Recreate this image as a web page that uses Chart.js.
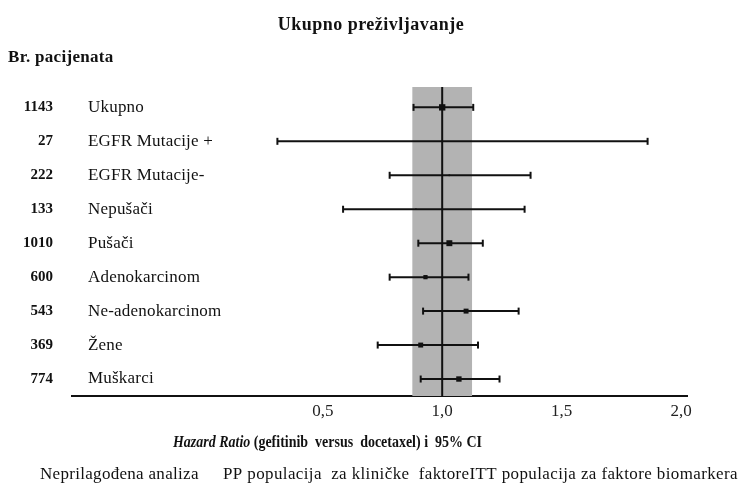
<!DOCTYPE html>
<html>
<head>
<meta charset="utf-8">
<script src="https://cdn.jsdelivr.net/npm/chart.js@4"></script>
<style>
  html, body { margin: 0; padding: 0; background: #fff; }
  #wrap { width: 741px; height: 486px; }
</style>
</head>
<body>
<div id="wrap"><canvas id="forest"></canvas></div>
<script>
// data
const patients = [1143, 27, 222, 133, 1010, 600, 543, 369, 774];
const subgroups = ["Ukupno", "EGFR Mutacije +", "EGFR Mutacije-", "Nepušači", "Pušači",
                   "Adenokarcinom", "Ne-adenokarcinom", "Žene", "Muškarci"];
const hazardRatio = [1.00, 1.00, 1.03, 0.89, 1.03, 0.93, 1.10, 0.91, 1.07];
const ciLower = [0.88, 0.31, 0.78, 0.585, 0.90, 0.78, 0.92, 0.73, 0.91];
const ciUpper = [1.13, 1.86, 1.37, 1.345, 1.17, 1.11, 1.32, 1.15, 1.24];
const xTicks = [0.5, 1.0, 1.5, 2.0];
const bandRange = [0.875, 1.125];
const refLine = 1.0;

// marker size per row (style only)
const markerRadius = [4.5, 0, 1.2, 1.2, 4.2, 3, 3.5, 3.5, 3.8];

const serif = "'Liberation Serif', 'DejaVu Serif', serif";
const ink = "#111";

// one dataset per confidence interval, caps drawn as rotated line points
const ciSets = subgroups.map((name, i) => ({
  type: "scatter",
  label: name + " CI",
  data: [{ x: ciLower[i], y: i }, { x: ciUpper[i], y: i }],
  showLine: true,
  borderColor: ink,
  borderWidth: 2,
  pointStyle: "line",
  rotation: 90,
  pointRadius: 3.5,
  pointBorderWidth: 2,
  pointBorderColor: ink
}));

const estimateSet = {
  type: "scatter",
  label: "HR",
  data: hazardRatio.map((v, i) => ({ x: v, y: i })),
  pointStyle: "rect",
  pointRadius: markerRadius,
  backgroundColor: ink,
  borderColor: ink,
  borderWidth: 0
};

// gray band and the reference line at HR = 1
const bandPlugin = {
  id: "band",
  beforeDatasetsDraw(chart) {
    const { ctx, chartArea, scales } = chart;
    const x0 = scales.x.getPixelForValue(bandRange[0]);
    const x1 = scales.x.getPixelForValue(bandRange[1]);
    ctx.save();
    ctx.fillStyle = "#b3b3b3";
    ctx.fillRect(x0, chartArea.top, x1 - x0, chartArea.bottom - chartArea.top);
    const xr = scales.x.getPixelForValue(refLine);
    ctx.strokeStyle = ink;
    ctx.lineWidth = 2;
    ctx.beginPath();
    ctx.moveTo(xr, chartArea.top);
    ctx.lineTo(xr, chartArea.bottom);
    ctx.stroke();
    ctx.restore();
  }
};

// titles, row labels and the footer line
const textPlugin = {
  id: "texts",
  afterDraw(chart) {
    const { ctx, scales } = chart;
    ctx.save();
    ctx.fillStyle = ink;
    ctx.textBaseline = "middle";

    ctx.font = "bold 18px " + serif;
    ctx.letterSpacing = "0.5px";
    ctx.textAlign = "center";
    ctx.fillText("Ukupno preživljavanje", 371, 25);

    ctx.font = "bold 17px " + serif;
    ctx.letterSpacing = "0.3px";
    ctx.textAlign = "left";
    ctx.fillText("Br. pacijenata", 8, 58);
    ctx.letterSpacing = "0px";

    subgroups.forEach((name, i) => {
      const y = scales.y.getPixelForValue(i);
      ctx.font = "bold 15px " + serif;
      ctx.textAlign = "right";
      ctx.fillText(String(patients[i]), 53, y);
      ctx.font = "17px " + serif;
      ctx.textAlign = "left";
      ctx.letterSpacing = "0.2px";
      ctx.fillText(name, 88, y);
      ctx.letterSpacing = "0px";
    });

    // x axis title: italic part then bold part, squeezed to the reference width
    const partA = "Hazard Ratio";
    const partB = " (gefitinib  versus  docetaxel) i  95% CI";
    ctx.font = "italic bold 16px " + serif;
    const wA = ctx.measureText(partA).width;
    ctx.font = "bold 16px " + serif;
    const wB = ctx.measureText(partB).width;
    const f = Math.min(1, 309 / (wA + wB));
    const x = 327.5 - (wA + wB) * f / 2;
    ctx.font = "italic bold 16px " + serif;
    ctx.fillText(partA, x, 443, wA * f);
    ctx.font = "bold 16px " + serif;
    ctx.fillText(partB, x + wA * f, 443, wB * f);

    ctx.font = "17px " + serif;
    ctx.letterSpacing = "0.3px";
    ctx.fillText("Neprilagođena analiza", 40, 475);
    ctx.letterSpacing = "0.4px";
    ctx.fillText("PP populacija  za kliničke  faktoreITT populacija za faktore biomarkera", 223, 475, 515);
    ctx.restore();
  }
};

new Chart(document.getElementById("forest"), {
  type: "scatter",
  data: { datasets: [...ciSets, estimateSet] },
  options: {
    responsive: true,
    maintainAspectRatio: false,
    animation: false,
    layout: { padding: { left: 72, right: 54, top: 87, bottom: 50 } },
    plugins: { legend: { display: false }, tooltip: { enabled: false } },
    scales: {
      x: {
        type: "linear",
        min: -0.55,
        max: 2.025,
        afterBuildTicks: (scale) => { scale.ticks = xTicks.map(v => ({ value: v })); },
        afterFit: (scale) => { scale.height = 40; },
        grid: { display: false, drawTicks: false },
        border: { display: true, color: ink, width: 2 },
        ticks: {
          padding: 5,
          color: "#222",
          font: { family: serif, size: 17 },
          callback: (v) => v.toFixed(1).replace(".", ",")
        }
      },
      y: {
        type: "linear",
        reverse: true,
        min: -0.6,
        max: 8.5,
        display: false
      }
    }
  },
  plugins: [bandPlugin, textPlugin]
});
</script>
</body>
</html>
